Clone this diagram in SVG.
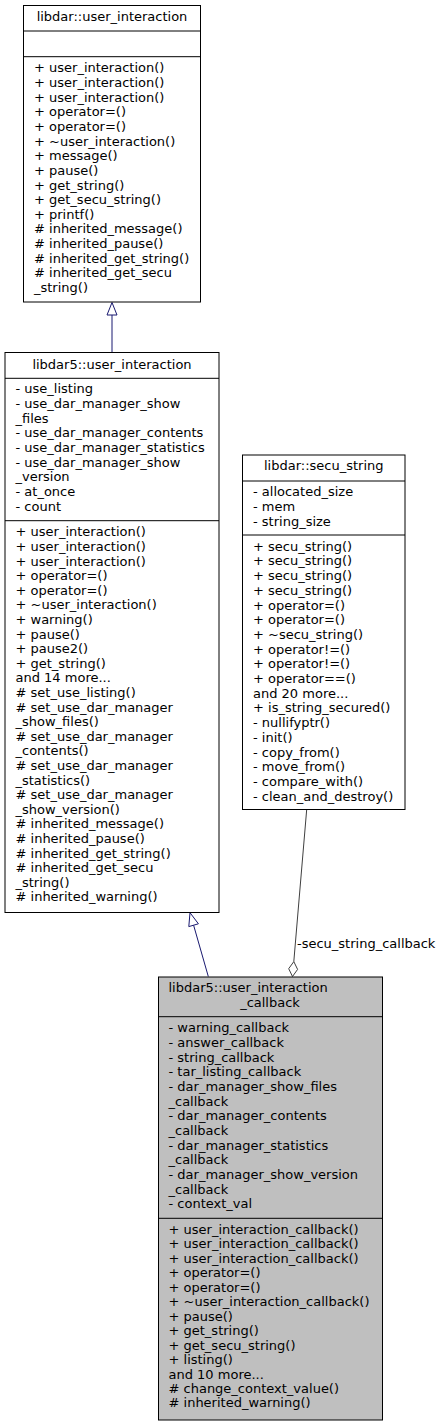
<svg xmlns="http://www.w3.org/2000/svg" width="444" height="1425" viewBox="0 0 444 1425">
<style>
text{font-family:"DejaVu Sans",sans-serif;font-size:13px;fill:#000}
.c{text-anchor:middle}
.box{fill:#fff;stroke:#000;stroke-width:1}
.grey{fill:#bfbfbf;stroke:#000;stroke-width:1}
.sep{stroke:#000;stroke-width:1}
.inh{stroke:#191970;stroke-width:1;fill:none}
.inhh{stroke:#191970;stroke-width:1;fill:#fff}
.agg{stroke:#404040;stroke-width:1;fill:none}
.aggh{stroke:#404040;stroke-width:1;fill:#fff}
</style>
<rect width="444" height="1425" fill="#fff"/>
<g id="connectors">
<line class="inh" x1="112" y1="352.5" x2="112" y2="315"/>
<polygon class="inhh" points="112,302.5 107,315 117,315"/>
<line class="inh" x1="208.3" y1="976.5" x2="193.6" y2="925.2"/>
<polygon class="inhh" points="190,912.7 198.4,923.8 188.8,926.6"/>
<line class="agg" x1="306.7" y1="809.5" x2="293.8" y2="961.6"/>
<polygon class="aggh" points="292.5,976.5 297.6,969.4 293.8,961.6 288.7,968.7"/>
<text x="297" y="947.5">-secu_string_callback</text>
</g>
<g id="node_libdar_user_interaction">
<rect class="box" x="23.5" y="5.5" width="177" height="296.5"/>
<line class="sep" x1="23.5" y1="31" x2="200.5" y2="31"/>
<line class="sep" x1="23.5" y1="56.7" x2="200.5" y2="56.7"/>
<text class="c" x="112" y="21">libdar::user_interaction</text>
<text x="34" y="72.3">+ user_interaction()</text>
<text x="34" y="86.95">+ user_interaction()</text>
<text x="34" y="101.6">+ user_interaction()</text>
<text x="34" y="116.25">+ operator=()</text>
<text x="34" y="130.9">+ operator=()</text>
<text x="34" y="145.55">+ ~user_interaction()</text>
<text x="34" y="160.2">+ message()</text>
<text x="34" y="174.85">+ pause()</text>
<text x="34" y="189.5">+ get_string()</text>
<text x="34" y="204.15">+ get_secu_string()</text>
<text x="34" y="218.8">+ printf()</text>
<text x="34" y="233.45"># inherited_message()</text>
<text x="34" y="248.1"># inherited_pause()</text>
<text x="34" y="262.75"># inherited_get_string()</text>
<text x="34" y="277.4"># inherited_get_secu</text>
<text x="34" y="292.05">_string()</text>
</g>
<g id="node_libdar5_user_interaction">
<rect class="box" x="5" y="352.5" width="214" height="560"/>
<line class="sep" x1="5" y1="378.3" x2="219" y2="378.3"/>
<line class="sep" x1="5" y1="520.7" x2="219" y2="520.7"/>
<text class="c" x="112" y="368.5">libdar5::user_interaction</text>
<text x="15.5" y="393.3">- use_listing</text>
<text x="15.5" y="407.97">- use_dar_manager_show</text>
<text x="15.5" y="422.64">_files</text>
<text x="15.5" y="437.31">- use_dar_manager_contents</text>
<text x="15.5" y="451.98">- use_dar_manager_statistics</text>
<text x="15.5" y="466.65">- use_dar_manager_show</text>
<text x="15.5" y="481.32">_version</text>
<text x="15.5" y="495.99">- at_once</text>
<text x="15.5" y="510.66">- count</text>
<text x="15.5" y="536.3">+ user_interaction()</text>
<text x="15.5" y="550.9">+ user_interaction()</text>
<text x="15.5" y="565.5">+ user_interaction()</text>
<text x="15.5" y="580.1">+ operator=()</text>
<text x="15.5" y="594.7">+ operator=()</text>
<text x="15.5" y="609.3">+ ~user_interaction()</text>
<text x="15.5" y="623.9">+ warning()</text>
<text x="15.5" y="638.5">+ pause()</text>
<text x="15.5" y="653.1">+ pause2()</text>
<text x="15.5" y="667.7">+ get_string()</text>
<text x="15.5" y="682.3">and 14 more...</text>
<text x="15.5" y="696.9"># set_use_listing()</text>
<text x="15.5" y="711.5"># set_use_dar_manager</text>
<text x="15.5" y="726.1">_show_files()</text>
<text x="15.5" y="740.7"># set_use_dar_manager</text>
<text x="15.5" y="755.3">_contents()</text>
<text x="15.5" y="769.9"># set_use_dar_manager</text>
<text x="15.5" y="784.5">_statistics()</text>
<text x="15.5" y="799.1"># set_use_dar_manager</text>
<text x="15.5" y="813.7">_show_version()</text>
<text x="15.5" y="828.3"># inherited_message()</text>
<text x="15.5" y="842.9"># inherited_pause()</text>
<text x="15.5" y="857.5"># inherited_get_string()</text>
<text x="15.5" y="872.1"># inherited_get_secu</text>
<text x="15.5" y="886.7">_string()</text>
<text x="15.5" y="901.3"># inherited_warning()</text>
</g>
<g id="node_libdar_secu_string">
<rect class="box" x="242.5" y="455" width="162.5" height="354.5"/>
<line class="sep" x1="242.5" y1="481" x2="405" y2="481"/>
<line class="sep" x1="242.5" y1="535" x2="405" y2="535"/>
<text class="c" x="323.75" y="470">libdar::secu_string</text>
<text x="253" y="496.3">- allocated_size</text>
<text x="253" y="510.97">- mem</text>
<text x="253" y="525.64">- string_size</text>
<text x="253" y="550.7">+ secu_string()</text>
<text x="253" y="565.4">+ secu_string()</text>
<text x="253" y="580.1">+ secu_string()</text>
<text x="253" y="594.8">+ secu_string()</text>
<text x="253" y="609.5">+ operator=()</text>
<text x="253" y="624.2">+ operator=()</text>
<text x="253" y="638.9">+ ~secu_string()</text>
<text x="253" y="653.6">+ operator!=()</text>
<text x="253" y="668.3">+ operator!=()</text>
<text x="253" y="683">+ operator==()</text>
<text x="253" y="697.7">and 20 more...</text>
<text x="253" y="712.4">+ is_string_secured()</text>
<text x="253" y="727.1">- nullifyptr()</text>
<text x="253" y="741.8">- init()</text>
<text x="253" y="756.5">- copy_from()</text>
<text x="253" y="771.2">- move_from()</text>
<text x="253" y="785.9">- compare_with()</text>
<text x="253" y="800.6">- clean_and_destroy()</text>
</g>
<g id="node_libdar5_user_interaction_callback">
<rect class="grey" x="158.5" y="977" width="224" height="443"/>
<line class="sep" x1="158.5" y1="1016.7" x2="382.5" y2="1016.7"/>
<line class="sep" x1="158.5" y1="1218.3" x2="382.5" y2="1218.3"/>
<text x="168.5" y="992.3">libdar5::user_interaction</text>
<text class="c" x="270" y="1006.7">_callback</text>
<text x="168.5" y="1032.3">- warning_callback</text>
<text x="168.5" y="1046.97">- answer_callback</text>
<text x="168.5" y="1061.64">- string_callback</text>
<text x="168.5" y="1076.31">- tar_listing_callback</text>
<text x="168.5" y="1090.98">- dar_manager_show_files</text>
<text x="168.5" y="1105.65">_callback</text>
<text x="168.5" y="1120.32">- dar_manager_contents</text>
<text x="168.5" y="1134.99">_callback</text>
<text x="168.5" y="1149.66">- dar_manager_statistics</text>
<text x="168.5" y="1164.33">_callback</text>
<text x="168.5" y="1179">- dar_manager_show_version</text>
<text x="168.5" y="1193.67">_callback</text>
<text x="168.5" y="1208.34">- context_val</text>
<text x="168.5" y="1234">+ user_interaction_callback()</text>
<text x="168.5" y="1248.45">+ user_interaction_callback()</text>
<text x="168.5" y="1262.9">+ user_interaction_callback()</text>
<text x="168.5" y="1277.35">+ operator=()</text>
<text x="168.5" y="1291.8">+ operator=()</text>
<text x="168.5" y="1306.25">+ ~user_interaction_callback()</text>
<text x="168.5" y="1320.7">+ pause()</text>
<text x="168.5" y="1335.15">+ get_string()</text>
<text x="168.5" y="1349.6">+ get_secu_string()</text>
<text x="168.5" y="1364.05">+ listing()</text>
<text x="168.5" y="1378.5">and 10 more...</text>
<text x="168.5" y="1392.95"># change_context_value()</text>
<text x="168.5" y="1407.4"># inherited_warning()</text>
</g>
</svg>
